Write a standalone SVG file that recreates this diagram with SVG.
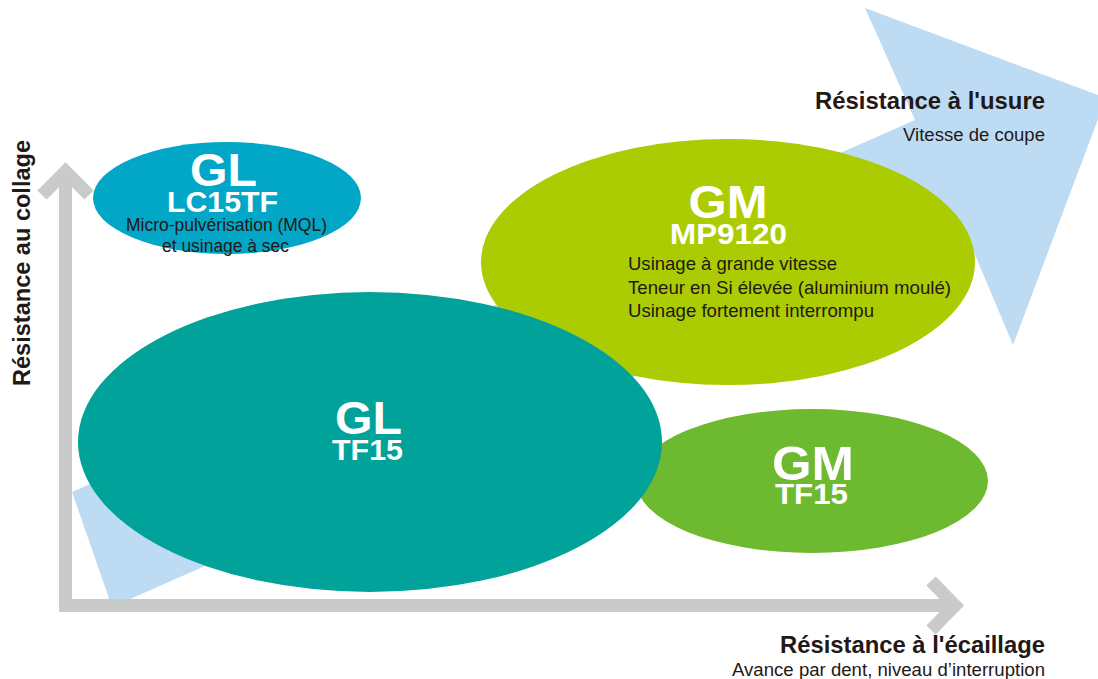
<svg xmlns="http://www.w3.org/2000/svg" width="1098" height="679" viewBox="0 0 1098 679">
<style>
.bw{font-family:"Liberation Sans",Arial,sans-serif;font-weight:bold;fill:#ffffff;text-anchor:middle}
.dk{font-family:"Liberation Sans",Arial,sans-serif;fill:#231815}
.tb{font-family:"Liberation Sans",Arial,sans-serif;font-weight:bold;fill:#231815}
.ax{fill:none;stroke:#c9caca;stroke-width:13;stroke-linejoin:miter;stroke-linecap:butt}
</style>
<rect width="1098" height="679" fill="#ffffff"/>
<polygon id="big-arrow" points="865,8 1106,98 1013,345 965,231 112,607 72,492 915,120" fill="#bddcf4"/>
<g id="node-gm-mp9120">
<ellipse cx="728" cy="262" rx="247" ry="123" fill="#abcc03"/>
<text class="bw" x="728" y="218" font-size="46" textLength="79" lengthAdjust="spacingAndGlyphs">GM</text>
<text class="bw" x="728.5" y="244" font-size="30" textLength="117" lengthAdjust="spacingAndGlyphs">MP9120</text>
<text class="dk" x="628" y="270" font-size="18.5" textLength="209" lengthAdjust="spacingAndGlyphs">Usinage à grande vitesse</text>
<text class="dk" x="628" y="294" font-size="18.5" textLength="323" lengthAdjust="spacingAndGlyphs">Teneur en Si élevée (aluminium moulé)</text>
<text class="dk" x="628" y="317" font-size="18.5" textLength="246" lengthAdjust="spacingAndGlyphs">Usinage fortement interrompu</text>
</g>
<g id="node-gm-tf15">
<ellipse cx="812" cy="481" rx="176" ry="72" fill="#6db92f"/>
<text class="bw" x="813" y="480" font-size="48" textLength="82" lengthAdjust="spacingAndGlyphs">GM</text>
<text class="bw" x="811.5" y="504" font-size="29" textLength="73" lengthAdjust="spacingAndGlyphs">TF15</text>
</g>
<g id="node-gl-tf15">
<ellipse cx="370" cy="442" rx="292" ry="150" fill="#00a29a"/>
<text class="bw" x="368.5" y="434" font-size="46" textLength="67" lengthAdjust="spacingAndGlyphs">GL</text>
<text class="bw" x="367.5" y="460" font-size="29" textLength="71" lengthAdjust="spacingAndGlyphs">TF15</text>
</g>
<g id="node-gl-lc15tf">
<ellipse cx="227" cy="198" rx="134" ry="56" fill="#02a6c7"/>
<text class="bw" x="223.5" y="186" font-size="46" textLength="67" lengthAdjust="spacingAndGlyphs">GL</text>
<text class="bw" x="222.5" y="212" font-size="29" textLength="111" lengthAdjust="spacingAndGlyphs">LC15TF</text>
<text class="dk" x="226.5" y="231" font-size="18" text-anchor="middle" textLength="201" lengthAdjust="spacingAndGlyphs">Micro-pulvérisation (MQL)</text>
<text class="dk" x="225.5" y="252" font-size="18" text-anchor="middle" textLength="127" lengthAdjust="spacingAndGlyphs">et usinage à sec</text>
</g>
<g id="connectors">
<path class="ax" d="M65.5,171 V605.5 H955"/>
<path class="ax" d="M42,195 L65.5,171.5 L89,195"/>
<path class="ax" d="M931,581 L955,605.5 L931,630"/>
</g>
<g id="labels">
<text class="tb" x="1045" y="109" font-size="24" text-anchor="end" textLength="230" lengthAdjust="spacingAndGlyphs">Résistance à l'usure</text>
<text class="dk" x="1045" y="141" font-size="17.5" text-anchor="end" textLength="142" lengthAdjust="spacingAndGlyphs">Vitesse de coupe</text>
<text class="tb" x="1045" y="653" font-size="24" text-anchor="end" textLength="265" lengthAdjust="spacingAndGlyphs">Résistance à l'écaillage</text>
<text class="dk" x="1045" y="676" font-size="17.5" text-anchor="end" textLength="313" lengthAdjust="spacingAndGlyphs">Avance par dent, niveau d’interruption</text>
<text class="tb" transform="translate(30,386) rotate(-90)" x="0" y="0" font-size="24" textLength="246" lengthAdjust="spacingAndGlyphs">Résistance au collage</text>
</g>
</svg>
